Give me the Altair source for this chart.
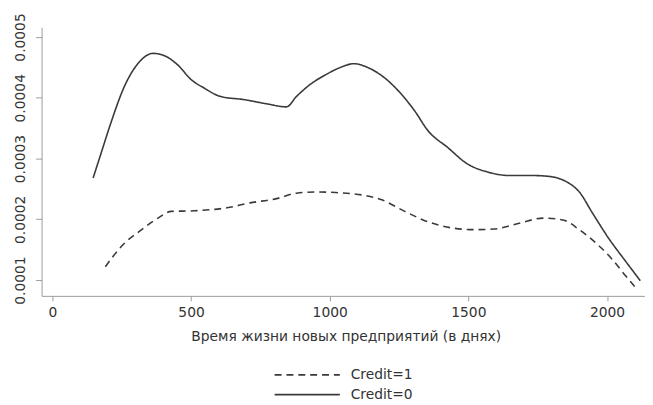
import altair as alt
import pandas as pd

# Credit=0 (solid)
x0 = [147, 180, 209, 262, 310, 363, 405, 452, 500, 547, 607, 690, 773, 844,
      880, 927, 986, 1034, 1087, 1141, 1200, 1260, 1307, 1354, 1426, 1497,
      1568, 1651, 1734, 1782, 1853, 1900, 1948, 2007, 2067, 2120]
y0 = [0.000268, 0.000315, 0.000356, 0.000421, 0.000457, 0.000473, 0.000469,
      0.000454, 0.000430, 0.000416, 0.000402, 0.000397, 0.000390, 0.000385,
      0.000402, 0.000421, 0.000438, 0.000449, 0.000456, 0.000449, 0.000432,
      0.000405, 0.000378, 0.000346, 0.000318, 0.000291, 0.000278, 0.000272,
      0.000272, 0.000271, 0.000262, 0.000245, 0.000210, 0.000168, 0.000131,
      0.000099]

# Credit=1 (dashed)
x1 = [191, 250, 322, 381, 428, 512, 630, 713, 808, 880, 951, 1022, 1117,
      1188, 1271, 1354, 1438, 1521, 1592, 1687, 1770, 1841, 1900, 1960, 2019,
      2067, 2102]
y1 = [0.000122, 0.000156, 0.000183, 0.000202, 0.000213, 0.000214, 0.000219,
      0.000227, 0.000234, 0.000243, 0.000245, 0.000244, 0.000240, 0.000232,
      0.000213, 0.000196, 0.000186, 0.000183, 0.000184, 0.000194, 0.000202,
      0.000199, 0.000183, 0.000161, 0.000134, 0.000107, 0.000088]

series_names = ["Credit=1", "Credit=0"]
x_ticks = [0, 500, 1000, 1500, 2000]
y_ticks = [0.0001, 0.0002, 0.0003, 0.0004, 0.0005]
x_title = "Время жизни новых предприятий (в днях)"

df = pd.concat([
    pd.DataFrame({"x": x1, "y": y1, "series": series_names[0], "order": range(len(x1))}),
    pd.DataFrame({"x": x0, "y": y0, "series": series_names[1], "order": range(len(x0))}),
])

FONT = "DejaVu Sans"
TXT = "#333333"
AX = "#9a9a9a"

chart = alt.Chart(df).mark_line(
    interpolate="monotone", color="#3a3a3a", strokeWidth=1.6
).encode(
    x=alt.X("x:Q",
            scale=alt.Scale(domain=[-39, 2137], nice=False, zero=False),
            axis=alt.Axis(values=x_ticks, title=x_title, grid=False,
                          tickSize=5, labelPadding=5, titlePadding=10,
                          titleX=308, format="d")),
    y=alt.Y("y:Q",
            scale=alt.Scale(domain=[0.000074, 0.000516], nice=False, zero=False),
            axis=alt.Axis(values=y_ticks, title=None, grid=False, format=".4f",
                          tickSize=6, labelPadding=8, labelAngle=270,
                          labelAlign="center", labelBaseline="bottom")),
    strokeDash=alt.StrokeDash(
        "series:N",
        scale=alt.Scale(domain=series_names, range=[[7, 5], [1, 0]]),
        sort=series_names,
        legend=alt.Legend(title=None, orient="none", legendX=257, legendY=340,
                          symbolType="M-3,0H3", symbolSize=484,
                          symbolStrokeColor="#3a3a3a", symbolStrokeWidth=1.6,
                          labelOffset=32, rowPadding=1, padding=0,
                          labelFontSize=14, labelColor=TXT, labelFont=FONT)),
    order="order:Q",
).properties(
    width=611, height=272,
    autosize="none",
    padding={"left": 34, "top": 17, "right": 0, "bottom": 108},
).configure_view(stroke=None).configure_axis(
    domainColor=AX, tickColor=AX, domainWidth=1, tickWidth=1,
    labelFont=FONT, titleFont=FONT, labelFontSize=14, titleFontSize=14,
    labelColor=TXT, titleColor=TXT, titleFontWeight="normal",
)

chart.save("out.html", embed_options={"renderer": "svg", "actions": False})
